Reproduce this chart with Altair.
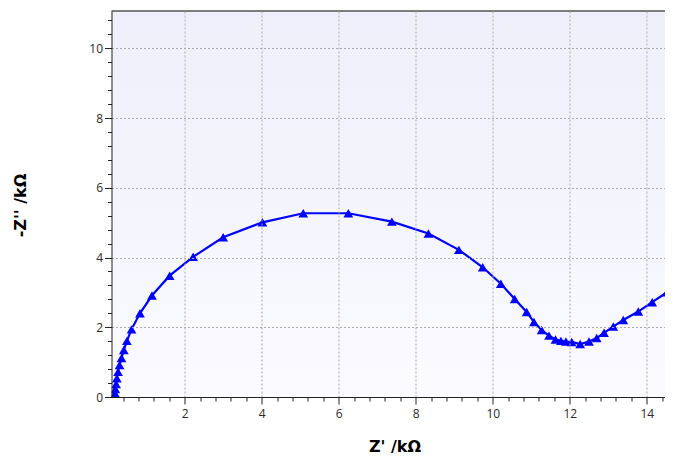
import altair as alt
import pandas as pd

# Nyquist data (kOhm)
z_real = [0.16, 0.19, 0.20, 0.22, 0.24, 0.27, 0.31, 0.36, 0.42, 0.50, 0.62, 0.84,
          1.15, 1.61, 2.22, 3.00, 4.02, 5.08, 6.25, 7.38, 8.33, 9.12, 9.74, 10.21,
          10.57, 10.88, 11.07, 11.27, 11.46, 11.63, 11.77, 11.90, 12.05, 12.27,
          12.50, 12.70, 12.89, 13.13, 13.39, 13.78, 14.14, 14.52, 14.90]
z_imag = [0.03, 0.11, 0.23, 0.37, 0.54, 0.72, 0.92, 1.12, 1.35, 1.61, 1.94, 2.40,
          2.91, 3.48, 4.02, 4.58, 5.01, 5.27, 5.27, 5.03, 4.69, 4.22, 3.72, 3.25,
          2.81, 2.44, 2.15, 1.92, 1.76, 1.65, 1.61, 1.59, 1.58, 1.52,
          1.59, 1.69, 1.84, 2.02, 2.21, 2.45, 2.72, 3.00, 3.27]

x_ticks = [0.4, 0.8, 1.2, 1.6, 2, 2.4, 2.8, 3.2, 3.6, 4, 4.4, 4.8, 5.2, 5.6, 6,
           6.4, 6.8, 7.2, 7.6, 8, 8.4, 8.8, 9.2, 9.6, 10, 10.4, 10.8, 11.2, 11.6,
           12, 12.4, 12.8, 13.2, 13.6, 14, 14.4]
y_ticks = [0, 0.4, 0.8, 1.2, 1.6, 2, 2.4, 2.8, 3.2, 3.6, 4, 4.4, 4.8, 5.2, 5.6, 6,
           6.4, 6.8, 7.2, 7.6, 8, 8.4, 8.8, 9.2, 9.6, 10, 10.4, 10.8]

df = pd.DataFrame({"zr": z_real, "zi": z_imag, "i": list(range(len(z_real)))})

W, H = 553.5, 386
major = "abs(datum.value/2 - round(datum.value/2)) < 0.01"

x_axis = alt.Axis(
    values=x_ticks, format=".0f",
    labelExpr=f"{major} ? datum.label : ''",
    tickSize={"condition": {"test": major, "value": 7}, "value": 4},
    gridOpacity={"condition": {"test": major, "value": 1}, "value": 0},
    title="Z' /kΩ", titleX=283, titleY=49, titleAlign="center", titleBaseline="middle",
    labelPadding=4, zindex=1,
)
y_axis = alt.Axis(
    values=y_ticks, format=".0f",
    labelExpr=f"{major} ? datum.label : ''",
    tickSize={"condition": {"test": major, "value": 7}, "value": 4},
    gridOpacity={"condition": {"test": major + " && datum.value > 0", "value": 1}, "value": 0},
    title="-Z'' /kΩ", titleX=-91, titleY=194, titleAlign="center", titleBaseline="middle",
    labelPadding=2, zindex=1,
)

xs = alt.Scale(domain=[0.1, 14.473], nice=False, zero=False)
ys = alt.Scale(domain=[0, 11.07], nice=False)

bg_gradient = alt.LinearGradient(
    gradient="linear", x1=0, y1=0, x2=0, y2=1,
    stops=[alt.GradientStop(offset=0, color="#efeffb"),
           alt.GradientStop(offset=1, color="#fafaff")],
)

bg = alt.Chart(alt.Data(values=[{}])).mark_rect(color=bg_gradient).encode(
    x=alt.value(0), x2=alt.value(W), y=alt.value(0), y2=alt.value(H)
)

base = alt.Chart(df).encode(
    x=alt.X("zr:Q", scale=xs, axis=x_axis),
    y=alt.Y("zi:Q", scale=ys, axis=y_axis),
    order="i:Q",
)
line = base.mark_line(color="#0000ff", strokeWidth=2.2, clip=True)
pts = base.mark_point(shape="triangle-up", filled=True, color="#0000ff", size=95, opacity=1, clip=True)

border = alt.Chart(alt.Data(values=[{}])).mark_rule(color="#555555", strokeWidth=1.5).encode(
    x=alt.value(0), x2=alt.value(W), y=alt.value(0)
)

chart = alt.layer(bg, line, pts, border).properties(
    width=W, height=H,
    autosize=alt.AutoSizeParams(type="none"),
    padding={"left": 103.5, "top": 3, "right": 0, "bottom": 63},
).configure_view(
    stroke=None,
).configure_axis(
    grid=True, gridColor="#aaaaaa", gridDash=[2, 2], gridWidth=1,
    domainColor="#222222", domainWidth=1, tickColor="#222222", tickWidth=1,
    labelFont="Open Sans", labelFontSize=12, labelColor="#2a2a2a",
    titleFont="DejaVu Sans", titleFontSize=16, titleFontWeight="bold", titleColor="#000000",
)

chart.save("out.html", embed_options={"renderer": "svg", "actions": False})
